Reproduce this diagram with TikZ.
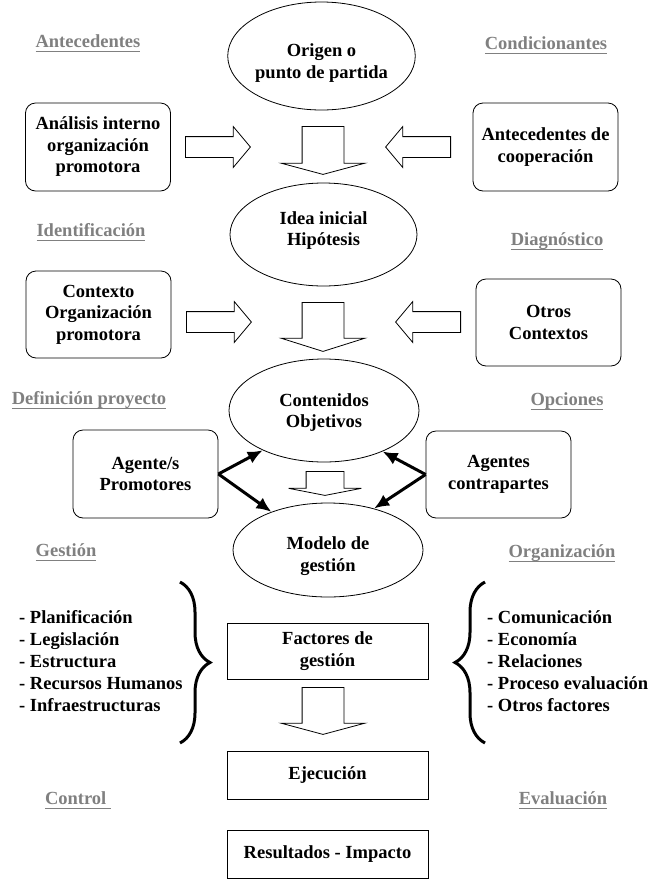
\documentclass[tikz,border=0pt]{standalone}
\usepackage{fontspec}
\setmainfont{Liberation Serif}
\usetikzlibrary{shapes.geometric,shapes.arrows,arrows.meta,decorations.pathreplacing}
\definecolor{lblgray}{RGB}{128,128,128}
\newcommand{\lblul}[1]{\leavevmode\setbox0=\hbox{#1}\rlap{\copy0}\rule[-4.8pt]{\wd0}{1.3pt}}
\newcommand{\ovaltxt}[2]{\raisebox{#1}[\height][\depth]{\begin{tabular}{@{}c@{}}#2\end{tabular}}}

\begin{document}
\begin{tikzpicture}[x=1pt,y=-1pt,
            every node/.style={font=\bfseries\fontsize{18.5}{21.5}\selectfont},
            oval/.style={draw,ellipse,inner sep=0pt,line width=0.8pt,align=center},
            rbox/.style={draw,rounded corners=10pt,inner sep=0pt,line width=0.8pt,align=center,minimum width=145pt,minimum height=88pt},
            sbox/.style={draw,inner sep=0pt,line width=0.8pt,align=center,minimum width=201pt},
            lbl/.style={text=lblgray},
            harr/.style={draw,single arrow,anchor=tail,line width=0.8pt,inner sep=0pt,inner ysep=10pt,single arrow head extend=10pt,single arrow tip angle=100,minimum height=65pt},
            varr/.style={draw,single arrow,anchor=tail,rotate=-90,line width=0.8pt,inner sep=0pt,inner ysep=20.5pt,single arrow head extend=21pt},
            thickarr/.style={line width=3pt,-{Latex[length=15pt,width=13pt]}},
            brc/.style={decorate,decoration={brace,amplitude=30pt},line width=3pt}]
            \useasboundingbox (0,0) rectangle (650,879);

            \foreach \nm/\lx/\ly/\lt in {ante/88/43/Antecedentes, cond/546/45/Condicionantes,
                    iden/91/232/Identificación, diag/557/241/Diagnóstico,
                    defi/89/400/Definición proyecto, opci/567/401/Opciones,
                    gest/66/552/Gestión, orga/562/553/Organización,
                    ctrl/78/800/Control~, eval/563/800/Evaluación}
                \node[lbl] (\nm) at (\lx,\ly) {\lblul{\lt}};

            \node[oval,minimum width=183pt,minimum height=108pt] (orig) at (321.5,56) {\ovaltxt{-7pt}{Origen o\\punto de partida}};
            \node[oval,minimum width=187pt,minimum height=103pt] (idea) at (323.5,234.5) {\ovaltxt{4pt}{Idea inicial\\Hipótesis}};
            \node[oval,minimum width=190pt,minimum height=103pt] (cont) at (324,410.5) {\ovaltxt{-2pt}{Contenidos\\Objetivos}};
            \node[oval,minimum width=190pt,minimum height=94pt] (model) at (328,550) {\ovaltxt{-6pt}{Modelo de\\gestión}};

            \node[rbox] (ana) at (98,147) {Análisis interno\\organización\\promotora};
            \node[rbox] (coop) at (545.5,147) {Antecedentes de\\cooperación};
            \node[rbox,minimum height=87pt] (ctx) at (98.5,314.5) {Contexto\\Organización\\promotora};
            \node[rbox,minimum height=87pt] (otros) at (548.5,322.5) {Otros\\Contextos};
            \node[rbox] (agp) at (145.5,474) {Agente/s\\Promotores};
            \node[rbox,minimum height=87pt] (agc) at (498.5,474.5) {Agentes\\contrapartes};

            \node[sbox,minimum height=56pt] (fact) at (327.5,651) {Factores de\\gestión};
            \node[sbox,minimum height=48pt] (ejec) at (327.5,775) {Ejecución};
            \node[sbox,minimum height=48pt] (res) at (327.5,854) {Resultados - Impacto};

            \node[harr] (a1) at (185,147) {};
            \node[harr,rotate=180] (a2) at (451,147) {};
            \node[varr,minimum height=48pt,single arrow tip angle=150] (d1) at (323,126) {};
            \node[harr] (a3) at (186,322) {};
            \node[harr,rotate=180] (a4) at (461,322) {};
            \node[varr,minimum height=49pt,single arrow tip angle=145] (d2) at (323,302) {};
            \node[varr,minimum height=24pt,inner ysep=18.5pt,single arrow head extend=17.5pt,single arrow tip angle=158] (d3) at (325,471) {};
            \node[varr,minimum height=47pt,single arrow tip angle=150] (d4) at (323,687) {};

            \draw[thickarr] (agp.east) -- (cont.213);
            \draw[thickarr] (agp.east) -- (model.146);
            \draw[thickarr] (agc.west) -- (cont.325);
            \draw[thickarr] (agc.west) -- (model.42);

            \node[align=left,anchor=west,inner sep=0pt,font=\bfseries\fontsize{18.5}{22}\selectfont] (lstl) at (19,661.5)
                {- Planificación\\- Legislación\\- Estructura\\- Recursos Humanos\\- Infraestructuras};
            \node[align=left,anchor=west,inner sep=0pt,font=\bfseries\fontsize{18.5}{22}\selectfont] (lstr) at (487,661.5)
                {- Comunicación\\- Economía\\- Relaciones\\- Proceso evaluación\\- Otros factores};

            \coordinate (bl1) at (180,582);
            \coordinate (bl2) at (180,743);
            \coordinate (br1) at (485,743);
            \coordinate (br2) at (485,582);
            \draw[brc] (bl1) -- (bl2);
            \draw[brc] (br1) -- (br2);
        \end{tikzpicture}
\end{document}
